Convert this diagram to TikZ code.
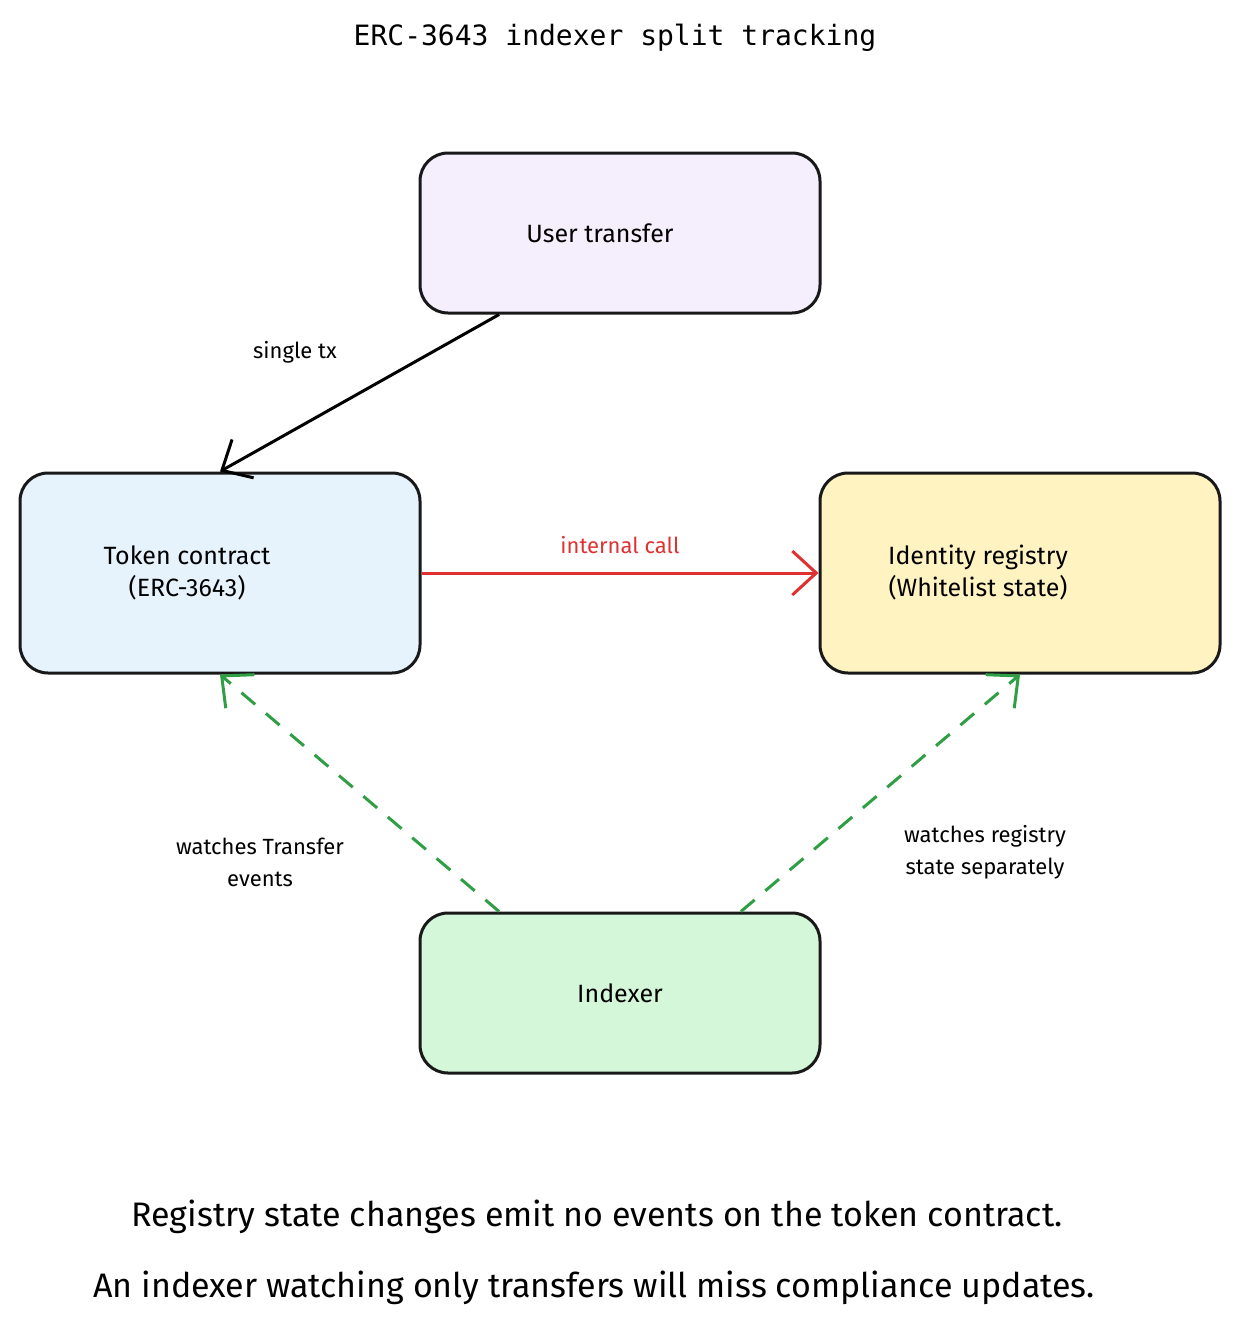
\documentclass[tikz,border=0pt]{standalone}
\usepackage{fontspec}
\setmainfont{Fira Sans}
\setmonofont{DejaVu Sans Mono}
\usetikzlibrary{calc, arrows.meta, positioning}
\definecolor{userfill}{HTML}{F5EEFC}
\definecolor{tokenfill}{HTML}{E6F3FD}
\definecolor{regfill}{HTML}{FFF3C2}
\definecolor{idxfill}{HTML}{D3F7D8}
\definecolor{callred}{HTML}{E03131}
\definecolor{watchgreen}{HTML}{2F9E44}
\tikzset{
    boxnode/.style = {draw=black!90, line width=1.5pt, rectangle, rounded corners=14pt,
      minimum width=200pt, inner sep=0pt, font=\fontsize{12.5}{16}\selectfont, align=center},
    textnode/.style = {draw=none, fill=none, inner sep=0pt, align=center, font=\fontsize{11}{16}\selectfont},
    boxtext/.style = {textnode, font=\fontsize{12.5}{16}\selectfont},
    connect/.style = {line width=1.5pt, -{Straight Barb[length=12pt, width=22pt]}},
    watch/.style = {connect, watchgreen, dash pattern=on 9pt off 7pt}
}
\begin{document}
\begin{tikzpicture}[x=0.5pt, y=-0.5pt]
    \useasboundingbox (0,0) rectangle (1240,1328);
    \node [textnode, font=\ttfamily\fontsize{14}{16}\selectfont] (title) at (615,38) {ERC-3643 indexer split tracking};

    \node [boxnode, fill=userfill, minimum height=80pt] (user) at (620,233) {};
    \node [boxnode, fill=tokenfill, minimum height=100pt] (token) at (220,573) {};
    \node [boxnode, fill=regfill, minimum height=100pt] (registry) at (1020,573) {};
    \node [boxnode, fill=idxfill, minimum height=80pt] (indexer) at (620,993) {};

    \node [boxtext] (usertext) at (600,233) {User transfer};
    \node [boxtext] (tokentext) at (187,573) {Token contract\\(ERC-3643)};
    \node [boxtext] (regtext) at (978,573) {Identity registry\\(Whitelist state)};
    \node [boxtext] (idxtext) at (620,993) {Indexer};

    \draw [connect] ($(user.south west)!0.2!(user.south east)$) -- (token.north);
    \draw [connect, callred] (token.east) -- (registry.west);
    \draw [watch] ($(indexer.north west)!0.2!(indexer.north east)$) -- (token.south);
    \draw [watch] ($(indexer.north west)!0.8!(indexer.north east)$) -- (registry.south);

    \node [textnode] (txlabel) at (295,352) {single tx};
    \node [textnode, text=callred] (calllabel) at (620,545) {internal call};
    \node [textnode] (evlabel) at (260,862) {watches Transfer\\events};
    \node [textnode] (reglabel) at (985,852) {watches registry\\state separately};

    \node [textnode, font=\fontsize{17}{20}\selectfont] (note1) at (597,1217) {Registry state changes emit no events on the token contract.};
    \node [textnode, font=\fontsize{17}{20}\selectfont] (note2) at (594,1288) {An indexer watching only transfers will miss compliance updates.};
\end{tikzpicture}
\end{document}
